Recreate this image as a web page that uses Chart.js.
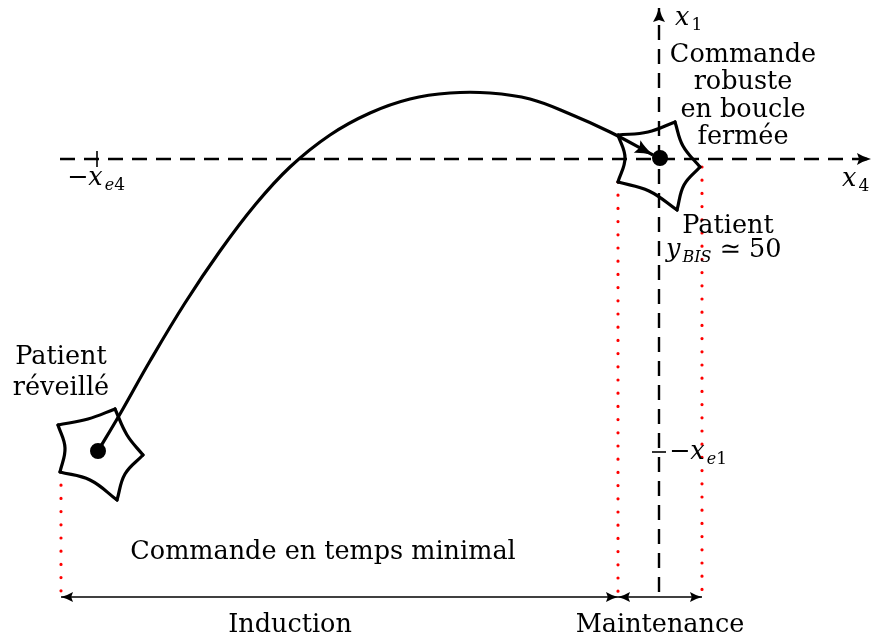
<!DOCTYPE html>
<html>
<head>
<meta charset="utf-8">
<script src="https://cdn.jsdelivr.net/npm/chart.js@4"></script>
<style>
  html, body { margin: 0; padding: 0; background: #fff; }
  #wrap { width: 871px; height: 639px; }
</style>
</head>
<body>
<div id="wrap"><canvas id="diagram"></canvas></div>
<script>
// State plane, in the picture's own units (y grows downwards)
const hAxisX = [60, 871];
const hAxisY = [159, 159];
const vAxisX = [659, 659];
const vAxisY = [592, 8];

const tickE4X = [97, 97];
const tickE4Y = [151, 167];
const tickE1X = [652, 666];
const tickE1Y = [452, 452];

// trajectory from "patient réveillé" to the operating point
const curveX = [98, 120, 150, 185, 220, 255, 290, 330, 370, 410, 450, 490, 530, 570, 610, 653];
const curveY = [451, 414, 361, 303, 251, 205, 167, 135, 113, 99, 93, 93, 99, 114, 132, 155];

const dotX = [98, 660];
const dotY = [451, 158];

// uncertainty sets: vertex, edge bend, vertex, ...
const setLeftX = [58, 88, 115, 127, 143, 125, 117, 90, 60, 65, 58];
const setLeftY = [425, 419, 409, 435, 455, 474, 500, 480, 472, 448, 425];
const setRightX = [618, 648, 675, 683, 700, 684, 677, 649, 618, 625, 618];
const setRightY = [135, 132, 122, 146, 167, 185, 210, 191, 182, 158, 135];

// red guides and phase spans
const guideX = [61, 618, 702];
const guideTopY = [472, 182, 167];
const baseY = 597;
const inductionX = [61, 618];
const maintenanceX = [618, 702];

const zip = (xs, ys) => xs.map((x, i) => ({ x: x, y: ys[i] }));

const plain = (xs, ys, extra) => Object.assign({
    data: zip(xs, ys),
    showLine: true,
    borderColor: '#000',
    backgroundColor: '#000',
    borderWidth: 2,
    pointRadius: 0,
    tension: 0
}, extra);

const datasets = [];

datasets.push(plain(dotX, dotY, { showLine: false, pointRadius: 7 }));
datasets.push(plain(curveX, curveY, { borderWidth: 3.2, tension: 0.4, arrow: ['end'], head: [18, 7] }));

[[setLeftX, setLeftY], [setRightX, setRightY]].forEach(([xs, ys]) => {
    for (let i = 0; i < xs.length - 1; i += 2) {
        datasets.push(plain(xs.slice(i, i + 3), ys.slice(i, i + 3), { borderWidth: 3.2, tension: 0.4, borderCapStyle: 'round' }));
    }
});

datasets.push(plain(hAxisX, hAxisY, { borderWidth: 2.4, borderDash: [15, 9], arrow: ['end'], head: [14, 6] }));
datasets.push(plain(vAxisX, vAxisY, { borderWidth: 2.4, borderDash: [15, 9], arrow: ['end'], head: [14, 6] }));
datasets.push(plain(tickE4X, tickE4Y, { borderWidth: 1.6 }));
datasets.push(plain(tickE1X, tickE1Y, { borderWidth: 1.6 }));

guideX.forEach((x, i) => {
    datasets.push(plain([x, x], [guideTopY[i], baseY], {
        borderColor: '#ff0000', borderWidth: 3.2, borderDash: [0, 13.2], borderCapStyle: 'round'
    }));
});

datasets.push(plain(inductionX, [baseY, baseY], { borderWidth: 1.4, arrow: ['start', 'end'], head: [12, 5] }));
datasets.push(plain(maintenanceX, [baseY, baseY], { borderWidth: 1.4, arrow: ['start', 'end'], head: [12, 5] }));

// texts: [string, style] parts; style '' roman, 'i' italic, 's' subscript roman, 'si' subscript italic
const labels = [
    { parts: [['x', 'i'], ['1', 's']], x: 675, y: 25, align: 'left' },
    { parts: [['x', 'i'], ['4', 's']], x: 842, y: 186, align: 'left' },
    { parts: [['\u2212', ''], ['x', 'i'], ['e', 'si'], ['4', 's']], x: 67, y: 185, align: 'left' },
    { parts: [['\u2212', ''], ['x', 'i'], ['e', 'si'], ['1', 's']], x: 669, y: 459, align: 'left' },
    { parts: [['y', 'i'], ['BIS', 'si'], [' \u2243 50', '']], x: 666, y: 257, align: 'left' },
    { parts: [['Commande', '']], x: 743, y: 62, align: 'center' },
    { parts: [['robuste', '']], x: 743, y: 89, align: 'center' },
    { parts: [['en boucle', '']], x: 743, y: 117, align: 'center' },
    { parts: [['ferm\u00e9e', '']], x: 743, y: 144, align: 'center' },
    { parts: [['Patient', '']], x: 728, y: 233, align: 'center' },
    { parts: [['Patient', '']], x: 61, y: 364, align: 'center' },
    { parts: [['r\u00e9veill\u00e9', '']], x: 61, y: 395, align: 'center' },
    { parts: [['Commande en temps minimal', '']], x: 323, y: 559, align: 'center' },
    { parts: [['Induction', '']], x: 290, y: 632, align: 'center' },
    { parts: [['Maintenance', '']], x: 660, y: 632, align: 'center' }
];

const FAMILY = '"DejaVu Serif", "Liberation Serif", serif';
const fontFor = (style) => {
    if (style === 'i') return 'italic 25.5px ' + FAMILY;
    if (style === 's') return '17px ' + FAMILY;
    if (style === 'si') return 'italic 16px ' + FAMILY;
    return '25.5px ' + FAMILY;
};

const arrowHeads = {
    id: 'arrowHeads',
    afterDatasetsDraw(chart) {
        const ctx = chart.ctx;
        chart.data.datasets.forEach((ds, i) => {
            if (!ds.arrow) return;
            const pts = chart.getDatasetMeta(i).data;
            const n = pts.length;
            ds.arrow.forEach(end => {
                const tip = end === 'end' ? pts[n - 1] : pts[0];
                const from = end === 'end' ? pts[n - 2] : pts[1];
                const a = Math.atan2(tip.y - from.y, tip.x - from.x);
                const [len, half] = ds.head;
                ctx.save();
                ctx.translate(tip.x, tip.y);
                ctx.rotate(a);
                ctx.beginPath();
                ctx.moveTo(0, 0);
                ctx.quadraticCurveTo(-len * 0.6, -half * 0.4, -len, -half);
                ctx.lineTo(-len * 0.85, 0);
                ctx.lineTo(-len, half);
                ctx.quadraticCurveTo(-len * 0.6, half * 0.4, 0, 0);
                ctx.closePath();
                ctx.fillStyle = ds.borderColor;
                ctx.fill();
                ctx.restore();
            });
        });
    }
};

const texts = {
    id: 'texts',
    afterDraw(chart) {
        const ctx = chart.ctx;
        const sx = chart.scales.x, sy = chart.scales.y;
        ctx.save();
        ctx.fillStyle = '#000';
        ctx.textBaseline = 'alphabetic';
        ctx.textAlign = 'left';
        labels.forEach(lb => {
            let total = 0;
            const widths = lb.parts.map(([t, s], k) => {
                ctx.font = fontFor(s);
                // small italic correction before a subscript
                const gap = (s.startsWith('s') && k > 0 && lb.parts[k - 1][1] === 'i') ? 2 : 0;
                const w = ctx.measureText(t).width + gap;
                total += w;
                return w;
            });
            let x = sx.getPixelForValue(lb.x);
            const y = sy.getPixelForValue(lb.y);
            if (lb.align === 'center') x -= total / 2;
            lb.parts.forEach(([t, s], k) => {
                ctx.font = fontFor(s);
                const gap = (s.startsWith('s') && k > 0 && lb.parts[k - 1][1] === 'i') ? 2 : 0;
                ctx.fillText(t, x + gap, s.startsWith('s') ? y + 5 : y);
                x += widths[k];
            });
        });
        ctx.restore();
    }
};

new Chart(document.getElementById('diagram'), {
    type: 'scatter',
    data: { datasets: datasets },
    options: {
        responsive: true,
        maintainAspectRatio: false,
        animation: false,
        layout: { padding: 0, autoPadding: false },
        plugins: { legend: { display: false }, tooltip: { enabled: false } },
        scales: {
            x: { type: 'linear', min: 0, max: 871, display: false },
            y: { type: 'linear', min: 0, max: 639, reverse: true, display: false }
        }
    },
    plugins: [arrowHeads, texts]
});
</script>
</body>
</html>
